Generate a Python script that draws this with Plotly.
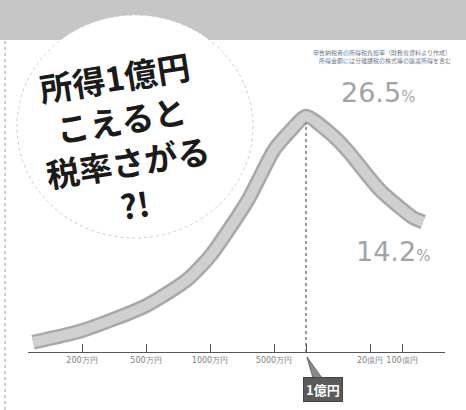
import plotly.graph_objects as go

# ---- data ----
income_pos = [0.47, 2.0, 4.0, 5.28, 6.03, 7.19, 8.0, 8.5, 9.0, 9.75, 10.28, 11.31, 12.34, 12.66]
tax_rate = [1.1, 2.4, 5.2, 8.1, 10.9, 17.1, 22.7, 24.8, 26.5, 24.6, 22.7, 18.2, 15.1, 14.6]
tick_pos = [2, 4, 6, 8, 9, 11, 12]
tick_text = ["200万円", "500万円", "1000万円", "5000万円", "", "20億円", "100億円"]
peak_pos, peak_label = 9, "26.5"
last_label = "14.2"

W, H = 466, 410
PX_PER_PCT = 8.9
def px(x): return x / W
def py(y): return 1 - y / H

fig = go.Figure()
fig.add_trace(go.Scatter(x=income_pos, y=tax_rate, mode="lines",
                         line=dict(color="#a8a8a8", width=15, shape="spline", smoothing=0.6),
                         hoverinfo="skip", showlegend=False))
fig.add_trace(go.Scatter(x=income_pos, y=tax_rate, mode="lines",
                         line=dict(color="#d0d0d0", width=10, shape="spline", smoothing=0.6),
                         hoverinfo="skip", showlegend=False))

shapes = [
    dict(type="rect", xref="paper", yref="paper", x0=0, x1=1, y0=py(40), y1=1,
         fillcolor="#c6c6c6", line=dict(width=0), layer="below"),
    dict(type="circle", xref="paper", yref="paper", x0=px(17), x1=px(253), y0=py(238), y1=py(15),
         fillcolor="white", line=dict(color="#cccccc", width=1, dash="dot"), layer="below"),
    dict(type="line", xref="paper", yref="paper", x0=px(5), x1=px(5), y0=0, y1=py(40),
         line=dict(color="#a0a0a0", width=1, dash="dot")),
    dict(type="line", xref="x", yref="y", x0=peak_pos, x1=peak_pos, y0=0, y1=25.8,
         line=dict(color="#555555", width=1.2, dash="dot")),
    dict(type="path", xref="paper", yref="paper",
         path=f"M {px(307)},{py(357)} L {px(322)},{py(378)} L {px(313)},{py(378)} Z",
         fillcolor="#8a8a8a", line=dict(color="#666666", width=1)),
]

annotations = [
    dict(text="所得1億円<br>こえると<br>税率さがる<br>?!", xref="paper", yref="paper",
         x=px(125), y=py(140), xanchor="center", yanchor="middle", showarrow=False, textangle=-9,
         font=dict(family="Noto Sans CJK JP", size=33, color="#1a1a1a", weight="bold"),
         align="center"),
    dict(text=f"{peak_label}<span style='font-size:15px'>%</span>", xref="paper", yref="paper",
         x=px(378), y=py(93), xanchor="center", yanchor="middle", showarrow=False,
         font=dict(family="DejaVu Sans", size=27, color="#a3a3a3")),
    dict(text=f"{last_label}<span style='font-size:15px'>%</span>", xref="paper", yref="paper",
         x=px(393), y=py(251), xanchor="center", yanchor="middle", showarrow=False,
         font=dict(family="DejaVu Sans", size=27, color="#a3a3a3")),
    dict(text="申告納税者の所得税負担率（財務省資料より作成）<br>所得金額には分離課税の株式等の譲渡所得を含む",
         xref="paper", yref="paper", x=px(382), y=py(56), xanchor="center", yanchor="middle",
         showarrow=False, align="right",
         font=dict(family="Noto Sans CJK JP", size=6, color="#7a7a7a")),
    dict(text="<b>1億円</b>", xref="paper", yref="paper", x=px(323), y=py(389),
         xanchor="center", yanchor="middle", showarrow=False,
         bgcolor="#5a5a5a", bordercolor="#444444", borderwidth=1, borderpad=2,
         font=dict(family="Noto Sans CJK JP", size=13, color="white")),
]

fig.update_layout(
    width=W, height=H, margin=dict(l=0, r=0, t=0, b=0),
    paper_bgcolor="white", plot_bgcolor="rgba(0,0,0,0)",
    shapes=shapes, annotations=annotations, showlegend=False,
    xaxis=dict(domain=[px(28), px(445)], range=[(28 - 18) / 32, (445 - 18) / 32],
               tickmode="array", tickvals=tick_pos, ticktext=tick_text, tickangle=0,
               ticks="inside", ticklen=8, tickcolor="#555555", tickwidth=1,
               showline=True, linecolor="#555555", linewidth=1, showgrid=False, zeroline=False,
               tickfont=dict(family="DejaVu Sans", size=8, color="#808080")),
    yaxis=dict(domain=[1 - 352 / H, 1 - 40 / H], range=[0, (352 - 40) / PX_PER_PCT],
               visible=False, showgrid=False, zeroline=False),
)

fig.write_html("out.html", config={"displayModeBar": False},
               post_script="document.body.style.margin='0';document.body.style.overflow='hidden';")
